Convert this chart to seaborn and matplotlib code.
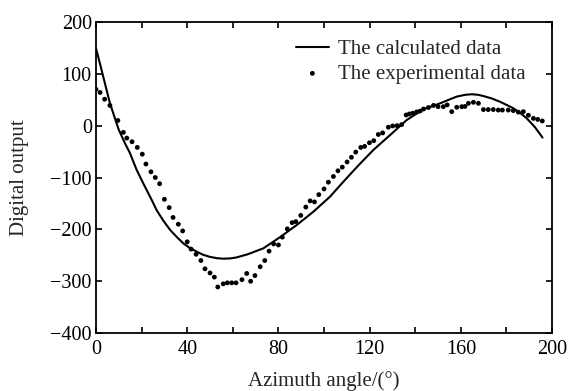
import seaborn as sns
import matplotlib.pyplot as plt
import pandas as pd
from matplotlib.ticker import MultipleLocator

# calculated curve
calc_angle = [0, 2, 4, 6, 8, 10, 12.7, 14.9, 17.8, 20.7, 24.4, 26.6, 29.5, 32.5,
              35.5, 38.3, 41.2, 44.2, 47, 50, 53, 55.8, 58.8, 61.7, 66.5, 73.4,
              80.7, 88, 95.3, 102.6, 108.5, 115, 121.6, 129, 136.3, 143.6, 150.9,
              155.3, 158.2, 162, 164.8, 167.5, 169.9, 173.5, 177.2, 180.5, 183,
              186, 188.9, 192.5, 195.8]
calc_output = [149, 115, 80, 45, 18, -8, -34, -53, -85, -111, -143, -163, -183, -201,
               -215, -227, -236, -243, -249, -253, -255.5, -256.5, -256, -254, -248,
               -236.5, -215, -191.6, -166, -137, -108, -77, -47, -18, 11, 31.6, 43,
               51, 56, 59.5, 60.5, 59.5, 57, 52.5, 46, 39, 33.5, 24.5, 14, -3, -23]

# experimental points
exp_angle = [0, 1.8, 3.8, 6.1, 9.6, 12, 13.5, 15.8, 18.1, 20.3, 21.9, 24.1, 26, 27.9,
             30, 32.1, 33.8, 36.1, 38, 40, 41.7, 43.9, 46, 47.8, 50, 51.9, 53.4, 55.8,
             57.6, 59.5, 61.4, 64, 66.1, 67.8, 69.7, 72, 74, 75.9, 77.9, 80, 81.7,
             83.9, 86, 87.6, 89.8, 92, 93.9, 95.8, 97.7, 100, 101.9, 104.1, 106.1, 108,
             110.1, 112, 113.9, 116.1, 117.8, 119.9, 121.8, 123.8, 125.7, 128.2, 130.1,
             132, 134, 136, 137.4, 138.9, 140.6, 142.1, 143.6, 145.8, 148, 150,
             152.3, 154, 156, 158.2, 160.4, 161.8, 163.3, 165.5, 167.7, 169.9, 172,
             174.2, 176.4, 178.2, 180.8, 183, 185.2, 187.4, 189.6, 191.8, 193.7, 195.7]
exp_output = [70, 64, 51, 39, 10, -13, -24, -31, -42, -55, -74, -89, -100, -112,
              -142, -158, -177, -190, -203, -224, -238, -248, -260, -276, -284, -292,
              -311, -305, -303, -303, -303, -297, -285, -300, -289, -272, -260, -242,
              -228, -230, -215, -199, -187, -185, -173, -157, -145, -147, -133, -122,
              -109, -98, -87, -80, -70, -61, -51, -42, -40, -33, -29, -17, -14, -3,
              -0.6, 0, 2, 20.6, 22.5, 24, 26.4, 28, 32, 35, 39, 36.6, 36.6, 40, 27,
              35.4, 36.6, 37, 43, 45, 43, 31, 31, 31, 30, 30, 30, 29, 26, 27, 20, 14,
              12, 9]

calc = pd.DataFrame({'angle': calc_angle, 'output': calc_output})
exp = pd.DataFrame({'angle': exp_angle, 'output': exp_output})

sns.set_style("ticks")
plt.rcParams['font.family'] = ['Liberation Serif', 'DejaVu Serif']
plt.rcParams['font.size'] = 15

fig = plt.figure(figsize=(5.68, 3.91), dpi=100)
ax = fig.add_axes([0.169, 0.148, 0.803, 0.796])

sns.lineplot(data=calc, x='angle', y='output', color='black', linewidth=1.5,
             sort=False, label='The calculated data', ax=ax)
sns.scatterplot(data=exp, x='angle', y='output', color='black', s=12,
                edgecolor='none', label='The experimental data', ax=ax)

ax.set_xlim(0, 200)
ax.set_ylim(-400, 200)
ax.xaxis.set_major_locator(MultipleLocator(40))
ax.xaxis.set_minor_locator(MultipleLocator(20))
ax.yaxis.set_major_locator(MultipleLocator(100))
ax.tick_params(which='both', direction='in', top=True, right=True,
               length=4, width=1.2, labelsize=14.5, colors='black')
ax.tick_params(axis='x', pad=5)
ax.tick_params(axis='y', pad=3)
for s in ax.spines.values():
    s.set_visible(True)
    s.set_linewidth(1.3)
    s.set_color('black')

ax.set_xlabel('Azimuth angle/(°)', fontsize=15, labelpad=9)
ax.set_ylabel('Digital output', fontsize=15, labelpad=15)

ax.legend(loc='upper right', frameon=False, fontsize=15, handlelength=1.6,
          handletextpad=0.45, labelspacing=0.25, borderaxespad=0.0,
          borderpad=0.2, bbox_to_anchor=(0.952, 0.957))

fig.savefig('out.png', dpi=100, facecolor='white')
